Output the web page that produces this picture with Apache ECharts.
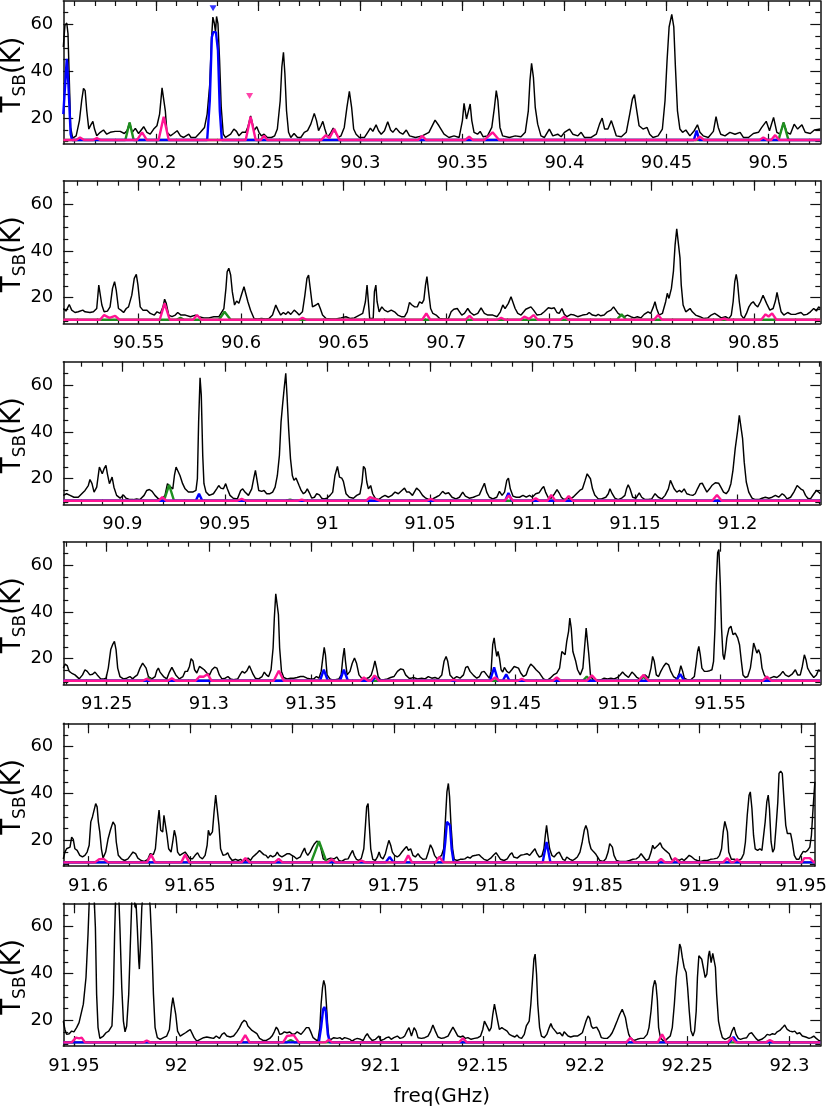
<!DOCTYPE html>
<html><head><meta charset="utf-8">
<script src="https://cdn.jsdelivr.net/npm/echarts@6/dist/echarts.min.js"></script>
<style>html,body{margin:0;padding:0;background:#fff}#c{width:830px;height:1109px}</style>
</head><body><div id="c"></div>
<script>
// ---------- data ----------
const panelRanges = [[90.1544,90.5254],[90.5133,90.8824],[90.8712,91.2404],[91.2288,91.5990],[91.5878,91.9567],[91.9448,92.3151]];
const tickLabels = [
  [90.2,90.25,90.3,90.35,90.4,90.45,90.5],
  [90.55,90.6,90.65,90.7,90.75,90.8,90.85],
  [90.9,90.95,91,91.05,91.1,91.15,91.2],
  [91.25,91.3,91.35,91.4,91.45,91.5,91.55],
  [91.6,91.65,91.7,91.75,91.8,91.85,91.9,91.95],
  [91.95,92,92.05,92.1,92.15,92.2,92.25,92.3]
];
const yTickLabels = [20,40,60];
const yMinorTicks = [10,15,25,30,35,45,50,55,65];

const blackP1 = [[90.1544,50.3],[90.1552,59.6],[90.1561,60.6],[90.1567,56],[90.1574,34.6],[90.1580,16],[90.1590,11.4],[90.1607,12.4],[90.1623,18.9],[90.1634,27.4],[90.1643,32.7],[90.1651,31.7],[90.1659,23.1],[90.1669,15.3],[90.1679,17.1],[90.1689,18.6],[90.1697,15.3],[90.1708,12.4],[90.1725,13.9],[90.1741,14.9],[90.1757,13.1],[90.1774,13.9],[90.1798,14.3],[90.1823,14.3],[90.1843,13.4],[90.1856,14.6],[90.1869,18],[90.1882,13.9],[90.1897,15.6],[90.1913,13.4],[90.1938,16.3],[90.1954,13.9],[90.1970,13.1],[90.1987,15.3],[90.2003,16.7],[90.2016,21.7],[90.2028,32.9],[90.2036,32.4],[90.2044,23.1],[90.2052,13.9],[90.2069,12.4],[90.2085,13.4],[90.2102,14.6],[90.2118,12.4],[90.2134,11.7],[90.2159,13.1],[90.2170,11.7],[90.2192,11.7],[90.2216,13.9],[90.2236,16],[90.2249,21.7],[90.2262,34.6],[90.2270,53.1],[90.2277,63.1],[90.2284,60.6],[90.2290,56.7],[90.2295,63.4],[90.2302,60.3],[90.2310,44.6],[90.2318,24.6],[90.2328,13.1],[90.2339,11.7],[90.2364,13.1],[90.2380,15.3],[90.2393,14.3],[90.2405,12.4],[90.2421,13.9],[90.2438,13.9],[90.2449,16.3],[90.2462,20.9],[90.2472,17.4],[90.2479,14.6],[90.2492,16.3],[90.2503,13.9],[90.2515,12.4],[90.2528,13.1],[90.2544,11.7],[90.2564,11.7],[90.2580,12.4],[90.2593,15.3],[90.2607,27.4],[90.2615,41.7],[90.2623,48.1],[90.2630,38.9],[90.2638,23.1],[90.2648,13.9],[90.2659,11.7],[90.2675,13.4],[90.2692,11.7],[90.2708,11.7],[90.2725,13.9],[90.2741,14.6],[90.2757,17.4],[90.2774,22],[90.2785,18.9],[90.2795,14.6],[90.2807,16.7],[90.2816,18.6],[90.2826,15.3],[90.2839,11.7],[90.2856,13.9],[90.2867,15.7],[90.2877,13.9],[90.2892,11.7],[90.2905,12.4],[90.2921,16],[90.2934,24.6],[90.2946,31.4],[90.2957,24.6],[90.2967,15.3],[90.2979,13.1],[90.2995,11.7],[90.3020,11.7],[90.3036,13.9],[90.3049,15.7],[90.3061,14.3],[90.3077,17.1],[90.3089,14.6],[90.3102,13.1],[90.3118,14.6],[90.3134,18.4],[90.3148,14.9],[90.3159,13.9],[90.3175,15.7],[90.3192,13.9],[90.3208,13.1],[90.3225,14.9],[90.3241,12.4],
[90.3270,11.7],[90.3303,12.4],[90.3336,13.9],[90.3366,19.1],[90.3385,16.7],[90.3410,13.1],[90.3434,11.7],[90.3459,12.4],[90.3484,11.7],[90.3500,18.9],[90.3508,26.3],[90.3520,19.6],[90.3538,26],[90.3546,18.9],[90.3557,13.9],[90.3574,13.1],[90.3587,14.3],[90.3602,12],[90.3623,12.4],[90.3644,16],[90.3657,24.6],[90.3666,31.7],[90.3674,27.4],[90.3684,16],[90.3697,12.4],[90.3730,11.7],[90.3759,12.4],[90.3787,12],[90.3808,13.9],[90.3823,23.1],[90.3831,36],[90.3839,43.4],[90.3848,37.4],[90.3857,24.6],[90.3869,17.4],[90.3885,12.4],[90.3902,11.7],[90.3926,15.3],[90.3943,12.4],[90.3967,13.1],[90.3984,12],[90.4000,13.9],[90.4025,15.3],[90.4041,13.1],[90.4066,12.4],[90.4082,13.9],[90.4098,11.7],[90.4131,11.7],[90.4156,13.1],[90.4172,17.4],[90.4185,20],[90.4197,15.3],[90.4213,15.3],[90.4230,18.9],[90.4241,16],[90.4254,12.4],[90.4279,12],[90.4303,13.9],[90.4320,21.7],[90.4333,28.1],[90.4343,30],[90.4352,24.6],[90.4366,16.7],[90.4385,15.3],[90.4405,16],[90.4418,13.1],[90.4434,11.7],[90.4459,12.4],[90.4480,15.3],[90.4493,27.4],[90.4503,44.6],[90.4513,58.9],[90.4526,64.3],[90.4536,58.9],[90.4544,41.7],[90.4554,23.1],[90.4566,15.3],[90.4579,13.9],[90.4595,14.9],[90.4615,12.4],[90.4636,14.6],[90.4652,17.1],[90.4664,13.9],[90.4680,12.4],[90.4705,11.7],[90.4730,14.3],[90.4743,20.6],[90.4754,16],[90.4766,13.1],[90.4787,12.4],[90.4811,13.9],[90.4836,13.1],[90.4861,13.9],[90.4877,11.7],[90.4902,11.7],[90.4926,13.4],[90.4951,13.9],[90.4967,16],[90.4989,18.6],[90.5005,14.6],[90.5025,20.3],[90.5041,13.9],[90.5057,13.1],[90.5074,18.1],[90.5090,13.9],[90.5107,13.1],[90.5126,17.4],[90.5143,15.3],[90.5164,17.1],[90.5180,13.9],[90.5205,13.4],[90.5225,14.9],[90.5254,15.3]];

const blackP2 = [[90.5133,15.4],[90.5146,14.3],[90.5162,17.1],[90.5174,14.7],[90.5190,13.7],[90.5206,14],[90.5228,14.7],[90.5239,14],[90.5263,13.7],[90.5280,14],[90.5296,15.4],[90.5306,25.4],[90.5312,24.7],[90.5321,16.9],[90.5332,14],[90.5348,14.3],[90.5361,16.1],[90.5373,24],[90.5383,26.9],[90.5391,23.3],[90.5402,15.4],[90.5414,14.7],[90.5427,13.7],[90.5440,15.4],[90.5451,16.1],[90.5467,21.1],[90.5479,28.3],[90.5489,30],[90.5497,25.4],[90.5508,16.1],[90.5521,14.7],[90.5541,14.7],[90.5557,13.3],[90.5577,12.6],[90.5590,14],[90.5606,13.3],[90.5619,16.1],[90.5627,19.4],[90.5635,17.6],[90.5647,12.6],[90.5663,11.9],[90.5679,12.6],[90.5691,13.7],[90.5707,12.6],[90.5728,12.6],[90.5753,11.9],[90.5777,12.6],[90.5794,11.9],[90.5818,11.4],[90.5843,11.4],[90.5867,11.9],[90.5892,11.9],[90.5900,12.6],[90.5916,15.4],[90.5926,24],[90.5932,31.1],[90.5940,32.6],[90.5949,29.7],[90.5957,22.6],[90.5968,16.9],[90.5978,18.6],[90.5989,17.6],[90.6001,21.1],[90.6014,24.7],[90.6022,24],[90.6033,18.3],[90.6046,14.7],[90.6063,11.1],[90.6079,10.9],[90.6099,11.1],[90.6120,10.9],[90.6136,11.1],[90.6153,12.6],[90.6169,16.9],[90.6180,14.7],[90.6193,12.6],[90.6206,13.7],[90.6218,12.9],[90.6229,14],[90.6242,12.9],[90.6259,14.7],[90.6272,13.7],[90.6283,12.6],[90.6299,14],[90.6311,21.1],[90.6321,28.3],[90.6329,29.7],[90.6337,24],[90.6348,16.1],[90.6365,16.9],[90.6376,17.6],[90.6386,15.4],[90.6397,12.6],[90.6414,11.1],[90.6438,10.9],[90.6462,10.9],[90.6487,11.4],[90.6511,11.9],[90.6533,11.1],[90.6552,11.4],[90.6577,12.6],[90.6593,13.3],[90.6606,18.3],[90.6614,25.4],[90.6621,26.1],[90.6627,11.1],[90.6634,11.1],[90.6644,11.1],[90.6650,22.6],[90.6657,25.4],[90.6663,18.3],[90.6673,14],[90.6686,16.1],[90.6699,14.7],[90.6715,14],[90.6732,14.7],[90.6748,14],[90.6764,12.6],[90.6781,11.9],[90.6797,11.9],[90.6810,14],[90.6821,18],[90.6833,16.9],
[90.6846,16.1],[90.6859,16.1],[90.6870,18.3],[90.6882,17.6],[90.6891,19.1],[90.6899,25.4],[90.6906,29],[90.6914,22.6],[90.6924,15.4],[90.6935,13.3],[90.6951,12.6],[90.6968,11.1],[90.6984,10.9],[90.7000,10.9],[90.7011,11.1],[90.7024,14],[90.7037,15.1],[90.7054,15.4],[90.7065,14],[90.7076,12.6],[90.7089,13.3],[90.7105,15.4],[90.7118,13.7],[90.7135,12.6],[90.7154,13.3],[90.7170,15.7],[90.7186,13.3],[90.7203,12.6],[90.7227,12.6],[90.7248,11.9],[90.7264,14],[90.7276,16.9],[90.7287,15.4],[90.7303,17.6],[90.7316,20.4],[90.7324,19.7],[90.7336,15.4],[90.7349,13.3],[90.7365,12.6],[90.7378,14],[90.7388,15.1],[90.7397,14.3],[90.7413,16.1],[90.7426,14.7],[90.7443,12.6],[90.7462,12.9],[90.7478,14],[90.7498,15.7],[90.7514,15.4],[90.7527,15.7],[90.7540,13.7],[90.7551,13.3],[90.7564,15.4],[90.7576,12.9],[90.7589,11.9],[90.7608,12.9],[90.7624,12.6],[90.7641,11.9],[90.7665,12.6],[90.7686,12.9],[90.7697,13.7],[90.7713,12.6],[90.7730,12.3],[90.7741,12.9],[90.7754,12.3],[90.7770,12.6],[90.7786,14],[90.7803,14.7],[90.7816,16.1],[90.7827,14.7],[90.7838,13.3],[90.7851,12.6],[90.7868,11.9],[90.7884,12.6],[90.7900,11.9],[90.7916,11.4],[90.7932,11.9],[90.7949,11.4],[90.7965,12.9],[90.7984,14],[90.7997,13.3],[90.8010,16.1],[90.8018,18.3],[90.8026,15.4],[90.8038,12.6],[90.8054,13.3],[90.8070,18.3],[90.8078,21.9],[90.8086,19.7],[90.8098,24],[90.8108,31.4],[90.8116,42.6],[90.8124,49.4],[90.8132,49],[90.8140,36.9],[90.8146,25.4],[90.8155,16.9],[90.8168,14],[90.8179,14.7],[90.8189,15.4],[90.8200,14],[90.8216,12.6],[90.8237,11.9],[90.8257,11.1],[90.8276,11.4],[90.8292,12.6],[90.8309,13.3],[90.8322,12.6],[90.8341,11.4],[90.8362,11.9],[90.8378,11.1],[90.8390,12.6],[90.8399,18.3],[90.8407,26.9],[90.8414,30],[90.8420,26.9],[90.8429,18.3],[90.8438,12.6],[90.8451,11.1],[90.8464,13.3],[90.8476,16.1],[90.8487,17.6],[90.8497,18.3],[90.8508,16.9],[90.8519,16.1],[90.8532,18.3],[90.8545,21.1],[90.8552,21.4],[90.8562,17.6],[90.8578,14.7],[90.8594,15.4],[90.8605,18.6],[90.8613,22.3],[90.8622,18.3],[90.8633,14],[90.8646,12.6],[90.8665,13.7],[90.8682,12.9],[90.8703,12.9],[90.8714,13.3],[90.8730,13.7],[90.8743,12.6],[90.8759,12.9],[90.8776,14],[90.8792,15.4],[90.8805,14.3],[90.8816,16.1],[90.8824,15.4]];

const blackP3 = [[90.8712,12.9],[90.8728,13.6],[90.8745,12.9],[90.8764,12.1],[90.8785,12.1],[90.8802,13.6],[90.8818,15],[90.8834,17.1],[90.8842,19.7],[90.8852,17.9],[90.8862,14.3],[90.8875,16.4],[90.8888,25],[90.8896,25.7],[90.8902,22.1],[90.8911,24.3],[90.8920,25.7],[90.8927,22.1],[90.8937,17.9],[90.8950,20.7],[90.8959,16.4],[90.8972,12.9],[90.8989,11.7],[90.9005,13.1],[90.9018,11.7],[90.9037,11.1],[90.9054,11.1],[90.9070,11.4],[90.9086,11.1],[90.9106,12.9],[90.9119,15],[90.9132,15.4],[90.9145,14.6],[90.9159,12.9],[90.9176,11.4],[90.9192,11.4],[90.9208,12.9],[90.9220,17.9],[90.9228,18.6],[90.9236,16.4],[90.9246,15.7],[90.9254,21.4],[90.9262,25],[90.9270,24.3],[90.9281,21.4],[90.9294,17.9],[90.9306,15.7],[90.9322,14.3],[90.9343,14.3],[90.9359,15],[90.9366,20],[90.9372,44.3],[90.9379,63.1],[90.9385,55.7],[90.9392,30],[90.9398,17.9],[90.9408,14.3],[90.9424,12.9],[90.9444,13.6],[90.9460,15.7],[90.9470,17.1],[90.9480,16],[90.9493,15.7],[90.9504,17.9],[90.9512,15.7],[90.9525,12.9],[90.9541,11.7],[90.9561,11.4],[90.9577,15],[90.9587,15.7],[90.9598,14.3],[90.9615,12.9],[90.9631,15.7],[90.9642,20.7],[90.9649,23.6],[90.9657,19.3],[90.9665,15],[90.9680,14.6],[90.9691,15],[90.9704,13.6],[90.9720,13.6],[90.9733,14.3],[90.9745,16.4],[90.9756,21.4],[90.9766,30],[90.9774,44.3],[90.9782,52.1],[90.9790,59.3],[90.9797,65],[90.9803,55.7],[90.9811,41.4],[90.9820,28.6],[90.9829,21.4],[90.9837,19.3],[90.9847,20.3],[90.9855,18.6],[90.9863,16.9],[90.9872,15],[90.9883,13.6],[90.9893,14.3],[90.9902,15.7],[90.9912,14],[90.9924,11.7],[90.9937,12.1],[90.9948,13.6],[90.9961,13.1],[90.9972,11.7],[90.9984,11.4],[90.9997,11.7],[91.0013,12.9],[91.0026,14.3],[91.0037,21.4],[91.0049,25.3],[91.0059,20.7],[91.0070,20.3],[91.0078,18.9],[91.0091,13.6],[91.0107,12.1],[91.0127,11.7],[91.0143,12.9],[91.0159,13.6],[91.0169,18.6],[91.0176,25.3],[91.0184,24.3],[91.0192,18.6],[91.0200,15.7],[91.0211,17.1],[91.0221,13.6],[91.0233,11.7],[91.0249,11.1],[91.0265,12.1],[91.0281,12.9],[91.0298,12.1],[91.0314,12.9],[91.0330,14.3],[91.0346,13.6],[91.0363,15],[91.0376,16],[91.0387,14.3],
[91.0399,14.3],[91.0415,12.9],[91.0435,16],[91.0448,15],[91.0464,12.9],[91.0480,11.7],[91.0497,11.1],[91.0513,11.4],[91.0529,12.1],[91.0546,12.9],[91.0562,14.6],[91.0575,13.6],[91.0591,14],[91.0608,12.1],[91.0627,11.4],[91.0644,12.1],[91.0660,14.3],[91.0673,12.6],[91.0692,11.7],[91.0712,12.1],[91.0725,12.6],[91.0741,13.1],[91.0754,15.7],[91.0766,18.1],[91.0777,14.3],[91.0790,12.1],[91.0807,11.4],[91.0826,12.1],[91.0839,14.6],[91.0852,12.9],[91.0864,14.3],[91.0875,19.3],[91.0883,20.3],[91.0892,15.7],[91.0905,12.6],[91.0921,12.1],[91.0937,12.1],[91.0954,12.9],[91.0970,12.1],[91.0986,12.9],[91.0999,12.1],[91.1016,13.6],[91.1032,14],[91.1045,15.7],[91.1055,16.7],[91.1064,14.3],[91.1076,12.1],[91.1092,11.7],[91.1108,13.6],[91.1120,15.4],[91.1130,14],[91.1141,12.1],[91.1153,11.1],[91.1169,11.7],[91.1182,11.4],[91.1198,12.1],[91.1215,13.6],[91.1231,15],[91.1244,15.7],[91.1257,19.3],[91.1267,22.1],[91.1275,22.9],[91.1283,20],[91.1293,15.7],[91.1304,13.1],[91.1321,11.4],[91.1337,11.4],[91.1358,12.1],[91.1370,13.6],[91.1378,15.7],[91.1389,13.6],[91.1402,11.7],[91.1418,11.1],[91.1435,11.7],[91.1451,12.9],[91.1459,15.7],[91.1467,17.4],[91.1476,15.7],[91.1489,12.1],[91.1505,11.7],[91.1521,14],[91.1533,12.1],[91.1549,11.1],[91.1565,11.1],[91.1582,11.4],[91.1598,13.6],[91.1606,14.3],[91.1614,12.1],[91.1631,11.4],[91.1647,12.9],[91.1663,15.7],[91.1673,19.3],[91.1681,19.6],[91.1691,15.7],[91.1704,14.3],[91.1717,15],[91.1728,14.3],[91.1740,15.7],[91.1753,13.6],[91.1769,13.1],[91.1782,12.9],[91.1794,13.6],[91.1805,15.7],[91.1818,17.9],[91.1828,18.1],[91.1838,16.4],[91.1851,14.3],[91.1864,15.7],[91.1875,17.1],[91.1892,18.3],[91.1908,18.1],[91.1919,16.4],[91.1932,14.3],[91.1945,13.6],[91.1957,15],[91.1968,17.9],[91.1978,23.6],[91.1989,32.9],[91.2001,40.7],[91.2009,47.1],[91.2017,47.1],[91.2025,37.1],[91.2033,27.1],[91.2043,18.6],[91.2055,14.3],[91.2071,11.7],[91.2087,11.1],[91.2104,11.1],[91.2120,11.7],[91.2136,12.1],[91.2153,11.7],[91.2169,12.1],[91.2185,12.9],[91.2201,12.1],[91.2218,13.6],[91.2229,12.9],[91.2242,11.4],[91.2259,12.1],[91.2275,14.3],[91.2291,17.1],[91.2299,17.9],[91.2308,15.7],[91.2321,15],[91.2332,12.9],[91.2343,11.7],[91.2356,11.4],[91.2373,13.6],[91.2385,15],[91.2396,14.3],[91.2404,13.6]];

const blackP4 = [[91.2288,16],[91.2297,17.7],[91.2307,17.1],[91.2317,14.6],[91.2328,13.9],[91.2345,13.1],[91.2366,11.4],[91.2382,13.1],[91.2394,15.3],[91.2405,14.6],[91.2418,13.1],[91.2431,13.4],[91.2443,14.3],[91.2454,13.1],[91.2471,11.4],[91.2487,11.4],[91.2497,11.7],[91.2508,16],[91.2520,23.9],[91.2529,26],[91.2538,27.4],[91.2546,23.9],[91.2554,16],[91.2565,12.4],[91.2582,11.4],[91.2598,11.7],[91.2614,12.4],[91.2627,11.4],[91.2639,12.4],[91.2650,13.1],[91.2663,16],[91.2676,18.1],[91.2685,18.9],[91.2693,16],[91.2704,12.4],[91.2721,11.4],[91.2737,12.4],[91.2745,14.9],[91.2753,16],[91.2761,14.3],[91.2778,12.4],[91.2794,11.4],[91.2807,14.3],[91.2819,16.3],[91.2827,16],[91.2838,13.1],[91.2855,11.4],[91.2873,12.4],[91.2884,14.6],[91.2895,14.6],[91.2905,16.7],[91.2913,20],[91.2922,19.1],[91.2930,15.3],[91.2941,13.9],[91.2954,16.7],[91.2966,16],[91.2977,15.3],[91.2990,13.9],[91.3003,13.1],[91.3015,15.3],[91.3028,16.4],[91.3039,16],[91.3051,13.1],[91.3064,11.4],[91.3080,11.7],[91.3093,12.4],[91.3105,11.4],[91.3121,11],[91.3141,11.4],[91.3154,13.4],[91.3163,14.6],[91.3175,13.9],[91.3186,14.9],[91.3198,17],[91.3206,16.7],[91.3216,13.4],[91.3227,11.7],[91.3243,11.4],[91.3260,12.4],[91.3271,14.3],[91.3281,13.1],[91.3292,12.4],[91.3304,15.3],[91.3314,24.6],[91.3320,37.4],[91.3327,47.7],[91.3333,47.4],[91.3340,38.9],[91.3346,24.6],[91.3355,14.6],[91.3366,12],[91.3382,11.4],[91.3399,11.7],[91.3415,11.7],[91.3431,12],[91.3448,12.4],[91.3464,12.4],[91.3480,11.7],[91.3497,11.4],[91.3513,11.4],[91.3526,12.4],[91.3538,11.7],[91.3549,14.6],[91.3557,20.3],[91.3564,24.9],[91.3570,21.7],[91.3578,13.1],[91.3592,11.4],[91.3603,11],[91.3619,11],[91.3636,11.4],[91.3647,13.1],[91.3655,20.3],[91.3662,24.6],[91.3668,18.9],[91.3676,13.1],[91.3690,14.6],[91.3701,18.1],[91.3712,20.3],[91.3722,18.1],[91.3734,13.1],[91.3750,11.4],[91.3766,11.4],[91.3783,12],[91.3794,13.1],[91.3804,16],[91.3812,19.1],[91.3820,16],[91.3828,12.4],[91.3840,11],[91.3856,11],[91.3873,11.4],[91.3889,12],[91.3905,12.4],[91.3922,14.6],[91.3938,15.7],[91.3951,15.3],[91.3962,13.1],[91.3979,11.7],[91.3990,11.7],
[91.4000,12],[91.4020,11.4],[91.4041,11.7],[91.4057,11.4],[91.4073,12.4],[91.4090,11.7],[91.4106,12],[91.4122,11.4],[91.4139,13.1],[91.4150,18.9],[91.4160,21],[91.4168,18.9],[91.4179,13.1],[91.4196,11.4],[91.4212,12.4],[91.4228,11.7],[91.4245,13.1],[91.4256,16.3],[91.4266,16.7],[91.4277,14.6],[91.4294,12.9],[91.4310,11.7],[91.4323,12.4],[91.4334,14.3],[91.4346,14.6],[91.4359,13.1],[91.4372,11.7],[91.4380,14.6],[91.4388,26],[91.4395,28.9],[91.4401,24.6],[91.4408,21],[91.4414,23.1],[91.4421,20.3],[91.4429,15.3],[91.4437,14.3],[91.4445,16.3],[91.4457,14.6],[91.4468,13.9],[91.4481,15.3],[91.4493,16.7],[91.4502,17.4],[91.4514,16],[91.4525,13.9],[91.4538,12.4],[91.4551,13.1],[91.4563,16],[91.4574,17.7],[91.4587,16.7],[91.4600,15.3],[91.4617,13.9],[91.4636,11.4],[91.4653,10.7],[91.4669,11.7],[91.4685,13.1],[91.4701,13.9],[91.4715,16],[91.4726,23.1],[91.4734,23.9],[91.4742,21.7],[91.4750,27.4],[91.4759,31.7],[91.4765,37.4],[91.4772,33.1],[91.4780,23.1],[91.4786,23.9],[91.4794,18.9],[91.4803,15.3],[91.4816,13.1],[91.4829,16],[91.4837,24.6],[91.4845,33.1],[91.4852,32.4],[91.4858,21.7],[91.4866,13.1],[91.4878,11],[91.4897,10.6],[91.4917,11],[91.4933,11.7],[91.4949,11.4],[91.4966,11.7],[91.4982,11.4],[91.4998,12],[91.5011,13.1],[91.5023,14.3],[91.5036,13.1],[91.5052,12],[91.5069,14.3],[91.5080,13.4],[91.5093,12],[91.5106,11.4],[91.5117,12.4],[91.5134,13.1],[91.5150,11.7],[91.5162,16],[91.5170,21],[91.5178,18.9],[91.5188,13.1],[91.5199,12.4],[91.5210,14.6],[91.5223,16.7],[91.5235,18.1],[91.5248,17.4],[91.5259,14.6],[91.5272,12.4],[91.5289,11.4],[91.5300,13.9],[91.5308,17],[91.5317,14.6],[91.5325,11.7],[91.5341,11],[91.5357,11],[91.5374,12.4],[91.5383,18.1],[91.5390,23.1],[91.5396,25.3],[91.5403,21.7],[91.5411,16],[91.5423,14.6],[91.5436,14.6],[91.5449,14.9],[91.5460,15.3],[91.5468,18.9],[91.5475,33.1],[91.5481,51.7],[91.5488,65.3],[91.5494,66.7],[91.5501,51.7],[91.5507,33.1],[91.5514,21.7],[91.5520,19.6],[91.5527,23.9],[91.5533,28.9],[91.5543,32.9],[91.5553,33.9],[91.5563,30.3],[91.5574,31],[91.5586,28.9],[91.5595,26],[91.5604,18.9],[91.5612,13.1],[91.5623,12],[91.5635,12.4],[91.5648,16],[91.5657,21.7],[91.5664,26.7],[91.5672,24.6],[91.5680,22.4],[91.5688,23.9],[91.5697,21.7],[91.5705,16],[91.5716,13.1],[91.5729,11.4],[91.5745,11.7],[91.5762,12.4],[91.5778,12],[91.5794,13.1],[91.5807,14.6],[91.5819,13.1],[91.5835,12.4],[91.5852,13.4],[91.5868,15.3],[91.5879,13.1],[91.5892,13.1],[91.5902,16.7],[91.5912,21.7],[91.5920,19.6],[91.5928,16],[91.5941,13.9],[91.5958,12],[91.5971,13.1],[91.5982,15.3],[91.5990,14.6]];

const blackP5 = [[91.5878,12.1],[91.5886,15],[91.5894,16.4],[91.5902,15.7],[91.5911,17.1],[91.5919,21.4],[91.5927,20.4],[91.5935,16.4],[91.5946,15.7],[91.5959,13.6],[91.5972,12.9],[91.5984,13.6],[91.5995,15],[91.6005,17.9],[91.6013,27.9],[91.6021,30],[91.6029,30.7],[91.6037,35.7],[91.6044,34.3],[91.6050,27.9],[91.6057,23.6],[91.6065,16.4],[91.6073,12.4],[91.6086,15],[91.6098,20.7],[91.6109,24.3],[91.6122,27.9],[91.6132,26.4],[91.6138,19.3],[91.6148,13.6],[91.6163,12.1],[91.6179,11.4],[91.6195,12.1],[91.6208,13.6],[91.6220,15],[91.6233,14.3],[91.6244,12.4],[91.6260,11.4],[91.6276,11],[91.6293,11.9],[91.6304,14.3],[91.6312,15],[91.6320,13.9],[91.6330,16.4],[91.6340,26.4],[91.6348,32.9],[91.6356,24.3],[91.6366,23.6],[91.6372,30.7],[91.6379,30.7],[91.6387,22.1],[91.6395,16.4],[91.6407,15],[91.6415,19.3],[91.6423,24.3],[91.6431,21.4],[91.6439,15],[91.6450,13.6],[91.6463,14.3],[91.6476,15],[91.6488,13.6],[91.6499,12.1],[91.6512,12.1],[91.6525,13.6],[91.6537,14.7],[91.6548,12.9],[91.6561,12.1],[91.6574,13.6],[91.6584,17.9],[91.6590,24.3],[91.6598,22.1],[91.6610,23.6],[91.6618,32.1],[91.6626,39.3],[91.6634,39.3],[91.6642,26.4],[91.6650,16.4],[91.6662,13.6],[91.6675,13.9],[91.6685,14.7],[91.6694,12.9],[91.6707,11.4],[91.6724,11.9],[91.6737,11.4],[91.6748,11.9],[91.6759,11],[91.6772,11.4],[91.6785,12.4],[91.6797,11.4],[91.6808,12.9],[91.6821,13.9],[91.6831,14.7],[91.6841,15.7],[91.6850,15],[91.6862,13.9],[91.6873,13.6],[91.6883,12.4],[91.6894,13.6],[91.6906,12.9],[91.6919,13.6],[91.6928,15],[91.6938,13.6],[91.6951,12.9],[91.6964,13.6],[91.6977,14.3],[91.6987,14.3],[91.7000,13.6],[91.7013,12.9],[91.7024,12.1],[91.7041,12.9],[91.7052,15],[91.7062,16.7],[91.7068,15],[91.7078,13.6],[91.7089,15],[91.7101,17.1],[91.7111,18.6],[91.7122,19.6],[91.7133,19.3],[91.7143,16.4],[91.7154,12.1],[91.7167,11.4],[91.7179,12.1],[91.7190,12.4],[91.7198,12.9],[91.7208,12.1],[91.7220,12.9],[91.7231,11.4],[91.7244,11],[91.7260,11.9],[91.7276,12.1],[91.7289,14.3],[91.7298,15.7],[91.7306,13.6],[91.7317,11.9],[91.7330,11.4],[91.7341,12.4],[91.7353,16.4],[91.7361,26.4],[91.7367,34.3],[91.7374,35.7],[91.7380,26.4],[91.7387,16.4],[91.7397,11.9],[91.7410,11.4],[91.7420,12.9],[91.7428,15],[91.7436,12.9],[91.7447,12.1],[91.7459,14.3],[91.7467,17.1],[91.7476,20],[91.7485,17.9],[91.7493,15],[91.7504,13.6],[91.7517,12.9],[91.7528,13.6],[91.7540,15],[91.7553,16.4],[91.7563,17.4],[91.7572,15.7],
[91.7583,16.4],[91.7594,13.6],[91.7606,12.9],[91.7619,14.3],[91.7630,12.9],[91.7643,11.9],[91.7659,12.1],[91.7670,15],[91.7680,18.1],[91.7690,16.4],[91.7700,13.6],[91.7713,12.1],[91.7724,12.9],[91.7735,13.6],[91.7745,16.4],[91.7753,27.9],[91.7761,40.7],[91.7768,44.3],[91.7774,38.6],[91.7781,26.4],[91.7789,16.4],[91.7797,11.9],[91.7810,11.4],[91.7826,11.9],[91.7838,11.9],[91.7849,12.1],[91.7862,12.9],[91.7875,12.4],[91.7886,13.3],[91.7903,13.6],[91.7919,13.9],[91.7930,12.9],[91.7943,11.9],[91.7959,11.4],[91.7976,12.4],[91.7989,13.6],[91.8002,14.7],[91.8011,13.6],[91.8024,11.9],[91.8041,11.4],[91.8057,12.1],[91.8070,13.9],[91.8080,14.7],[91.8089,12.9],[91.8106,12.4],[91.8122,13.6],[91.8138,13.9],[91.8154,14.3],[91.8167,13.6],[91.8180,15],[91.8193,16.4],[91.8203,14.3],[91.8214,12.9],[91.8227,13.3],[91.8237,16.4],[91.8244,22.1],[91.8250,26.4],[91.8256,22.1],[91.8265,16.4],[91.8276,13.6],[91.8287,12.9],[91.8300,14.3],[91.8312,15],[91.8320,13.6],[91.8330,11.9],[91.8341,11.4],[91.8349,12.9],[91.8357,13.6],[91.8365,11.9],[91.8378,11.4],[91.8390,12.1],[91.8401,12.9],[91.8414,15],[91.8425,19.3],[91.8435,24.3],[91.8443,26.4],[91.8451,24.3],[91.8459,19.3],[91.8468,16.4],[91.8479,15.3],[91.8490,14.3],[91.8500,12.9],[91.8511,11.4],[91.8528,11],[91.8541,12.1],[91.8552,15],[91.8560,18.6],[91.8567,19.3],[91.8573,17.1],[91.8581,13.6],[91.8593,11.4],[91.8609,11],[91.8625,11],[91.8641,11],[91.8657,11.4],[91.8674,11.9],[91.8690,12.1],[91.8703,12.9],[91.8714,14.3],[91.8726,12.9],[91.8739,11.4],[91.8752,12.1],[91.8763,15],[91.8771,17.9],[91.8779,16.4],[91.8787,16.4],[91.8797,17.9],[91.8808,19],[91.8817,17.1],[91.8825,17.1],[91.8833,15.7],[91.8841,16.4],[91.8852,14.3],[91.8862,12.1],[91.8873,11.4],[91.8885,12.1],[91.8901,11.4],[91.8914,12.1],[91.8925,11.4],[91.8937,12.4],[91.8950,13.6],[91.8963,12.9],[91.8976,11.9],[91.8990,11.4],[91.9006,11],[91.9023,11.4],[91.9039,11.4],[91.9055,11.9],[91.9071,12.1],[91.9088,12.4],[91.9099,13.6],[91.9109,16.4],[91.9117,23.6],[91.9125,28.1],[91.9131,28.6],[91.9138,23.6],[91.9144,15],[91.9157,11.9],[91.9174,11.9],[91.9190,11.4],[91.9206,12.1],[91.9218,14.3],[91.9226,19.3],[91.9235,30.7],[91.9244,39.3],[91.9250,40.7],[91.9258,33.6],[91.9266,22.1],[91.9274,16.4],[91.9286,15.7],[91.9297,16.4],[91.9307,15.7],[91.9315,16.4],[91.9323,27.9],[91.9331,36.4],[91.9338,39.3],[91.9344,33.6],[91.9352,19.3],[91.9360,15],[91.9368,16.4],[91.9377,26.4],[91.9385,36.4],[91.9391,48.6],[91.9399,49.6],[91.9407,48.6],[91.9416,36.4],[91.9424,26.4],[91.9432,22.9],[91.9440,23.3],[91.9448,22.9],[91.9456,19.3],[91.9466,13.6],[91.9477,11.9],[91.9489,11.9],[91.9498,13.6],[91.9510,15.3],[91.9521,15],[91.9531,15.7],[91.9542,17.1],[91.9550,22.1],[91.9558,33.6],[91.9567,45]];

const blackP6 = [[91.9448,19.7],[91.9456,16.1],[91.9464,14],[91.9477,14.3],[91.9489,15.4],[91.9500,15.1],[91.9513,16.9],[91.9525,19],[91.9529,19.7],[91.9546,26.9],[91.9559,38.3],[91.9569,56.9],[91.9575,71.1],[91.9587,82.6],[91.9598,74],[91.9605,59.7],[91.9611,31.1],[91.9618,16.9],[91.9627,12.3],[91.9644,13.3],[91.9657,14.7],[91.9670,15.4],[91.9676,14.7],[91.9686,17.6],[91.9693,31.1],[91.9699,56.9],[91.9704,72.6],[91.9712,81.1],[91.9719,74],[91.9725,59.7],[91.9734,34],[91.9742,19.7],[91.9750,15.1],[91.9758,17.6],[91.9768,31.1],[91.9776,52.6],[91.9783,71.1],[91.9791,76.9],[91.9799,68.3],[91.9804,69.7],[91.9810,59.7],[91.9817,45.4],[91.9820,41.9],[91.9825,51.1],[91.9832,68.3],[91.9840,75.4],[91.9853,78.6],[91.9864,76.9],[91.9873,68.3],[91.9881,52.6],[91.9889,31.1],[91.9897,16.9],[91.9908,12.6],[91.9922,11.9],[91.9938,12.6],[91.9954,13.3],[91.9967,16.1],[91.9977,25.4],[91.9984,29.7],[91.9990,29],[91.9998,22.6],[92.0007,15.4],[92.0020,13.3],[92.0033,14],[92.0046,14.7],[92.0057,15.4],[92.0069,16.1],[92.0078,15.4],[92.0088,12.6],[92.0101,11.1],[92.0118,11.9],[92.0134,12.6],[92.0150,12.9],[92.0167,12.6],[92.0183,12.3],[92.0196,13.3],[92.0204,14],[92.0212,12.3],[92.0224,14],[92.0235,14.7],[92.0248,13.3],[92.0265,12.9],[92.0281,13.3],[92.0297,15.1],[92.0310,16.9],[92.0322,19],[92.0333,20],[92.0343,19.4],[92.0351,17.6],[92.0359,16.9],[92.0371,15.7],[92.0382,15.1],[92.0395,14.3],[92.0408,12.3],[92.0425,11.4],[92.0441,11.4],[92.0458,12.3],[92.0469,13.3],[92.0480,15.1],[92.0490,17.1],[92.0498,16.1],[92.0507,14],[92.0518,14.3],[92.0529,15.1],[92.0542,14.7],[92.0556,15],[92.0569,14],[92.0582,14.3],[92.0592,15.1],[92.0600,14.7],[92.0611,14],[92.0624,15.4],[92.0637,16.9],[92.0649,16.9],[92.0657,15.4],[92.0670,12.6],[92.0681,11.9],[92.0693,11.1],[92.0703,16.9],[92.0709,26.9],[92.0716,34],[92.0722,37.1],[92.0729,34.7],[92.0735,26.9],[92.0742,16.9],[92.0748,11.9],[92.0758,11.9],[92.0771,12.6],[92.0788,12.3],[92.0801,12.6],[92.0812,11.9],[92.0824,12.6],[92.0837,12.3],[92.0850,11.9],[92.0861,11.1],[92.0873,11.9],[92.0886,12.3],[92.0902,11.9],[92.0915,11.4],[92.0926,13.3],[92.0935,14.3],[92.0944,12.9],[92.0959,11.4],[92.0975,11.9],[92.0992,13.3],[92.1000,11.4],[92.1016,11.9],[92.1029,12.6],[92.1041,12.9],[92.1052,11.9],[92.1065,12.6],[92.1082,13.3],[92.1095,12.3],[92.1108,12.6],[92.1118,13.3],[92.1131,15.7],[92.1139,16.9],
[92.1151,13.3],[92.1164,16.9],[92.1174,15.4],[92.1183,12.6],[92.1200,12.3],[92.1216,12.6],[92.1232,13.3],[92.1245,15.4],[92.1256,18],[92.1268,15.4],[92.1281,12.9],[92.1297,12.3],[92.1313,12.6],[92.1330,13.3],[92.1343,15.4],[92.1354,17.1],[92.1365,15.4],[92.1378,13.3],[92.1391,12.9],[92.1403,13.3],[92.1414,12.3],[92.1427,12.6],[92.1443,11.9],[92.1459,12.3],[92.1476,12.6],[92.1489,13.3],[92.1500,16.1],[92.1508,19.7],[92.1516,20],[92.1524,16.9],[92.1532,15.4],[92.1541,16.9],[92.1549,22.6],[92.1557,26.9],[92.1565,26.9],[92.1573,19.7],[92.1581,16.1],[92.1593,16.9],[92.1606,16.1],[92.1619,15.4],[92.1630,14],[92.1646,13.3],[92.1657,12.9],[92.1667,13.7],[92.1679,12.6],[92.1690,12.3],[92.1703,14],[92.1713,17.6],[92.1719,17.6],[92.1727,19.7],[92.1735,26.9],[92.1744,38.3],[92.1750,46.1],[92.1756,48.3],[92.1763,39.7],[92.1769,26.9],[92.1778,16.9],[92.1787,13.3],[92.1800,12.6],[92.1813,14],[92.1825,16.9],[92.1833,18.6],[92.1841,16.9],[92.1852,15.7],[92.1865,14.3],[92.1877,14.7],[92.1890,13.3],[92.1898,15.1],[92.1906,14.3],[92.1917,13.3],[92.1930,12.9],[92.1946,13.3],[92.1963,13.3],[92.1976,14],[92.1987,14.7],[92.1995,16.9],[92.2005,19.7],[92.2015,21.9],[92.2023,20.9],[92.2031,17.6],[92.2039,16.6],[92.2047,16.9],[92.2057,17.1],[92.2068,15.4],[92.2080,12.6],[92.2093,12.3],[92.2109,12.3],[92.2122,13.3],[92.2133,14.7],[92.2144,16.9],[92.2157,19.7],[92.2170,22.6],[92.2182,24.7],[92.2190,24],[92.2198,21.1],[92.2206,17.1],[92.2214,14],[92.2222,12.6],[92.2239,11.4],[92.2255,11.9],[92.2271,12.3],[92.2287,12.3],[92.2304,14],[92.2313,16.9],[92.2323,24],[92.2333,34],[92.2341,37.1],[92.2347,35.4],[92.2354,28.6],[92.2360,16.9],[92.2369,12.6],[92.2381,11.4],[92.2393,11.4],[92.2404,12.3],[92.2417,13.3],[92.2427,16.9],[92.2437,26.9],[92.2446,38.3],[92.2455,45.4],[92.2463,52.6],[92.2469,51.1],[92.2476,46.9],[92.2485,42.6],[92.2495,40.4],[92.2502,34],[92.2510,24],[92.2518,15.7],[92.2528,13.3],[92.2536,15.4],[92.2544,24],[92.2550,38.3],[92.2557,47.6],[92.2563,46.9],[92.2571,46.1],[92.2580,45.4],[92.2588,38.3],[92.2596,39.7],[92.2604,47.6],[92.2609,49.7],[92.2617,44.7],[92.2625,48.6],[92.2631,48.3],[92.2638,42.6],[92.2644,31.1],[92.2653,19.7],[92.2661,16.1],[92.2672,12.6],[92.2685,11.9],[92.2696,12.3],[92.2709,12.9],[92.2719,15.4],[92.2729,17.1],[92.2739,14],[92.2750,12.3],[92.2761,11.9],[92.2774,12.3],[92.2791,12.6],[92.2804,14.3],[92.2815,14.7],[92.2823,14],[92.2836,12.3],[92.2847,11.4],[92.2864,11.9],[92.2880,12.9],[92.2891,14],[92.2904,13.7],[92.2917,14.3],[92.2929,14],[92.2940,15.1],[92.2953,15.7],[92.2966,16.9],[92.2977,18],[92.2989,16.1],[92.3002,15.4],[92.3015,15.1],[92.3026,15.4],[92.3037,14.3],[92.3050,14.7],[92.3063,13.3],[92.3080,12.9],[92.3096,12.3],[92.3107,12.6],[92.3119,13.3],[92.3131,12.3],[92.3144,11.4],[92.3151,11.1]];

const magentaP1 = [[90.1544,10.6],[90.1607,10.6],[90.1626,11.7],[90.1646,10.6],[90.1689,10.6],[90.1708,11.4],[90.1728,10.6],[90.1905,10.6],[90.1930,13.9],[90.1954,10.6],[90.2011,10.6],[90.2036,20.6],[90.2061,10.6],[90.2438,10.6],[90.2462,20.6],[90.2487,10.6],[90.2511,10.6],[90.2528,12.4],[90.2544,10.6],[90.2807,10.6],[90.2831,12.7],[90.2848,11.4],[90.2872,15.3],[90.2897,10.6],[90.3284,10.6],[90.3303,12.4],[90.3323,10.6],[90.3513,10.6],[90.3533,12],[90.3552,10.6],[90.3607,10.6],[90.3648,13.9],[90.3680,10.6],[90.4644,10.6],[90.4664,12],[90.4684,10.6],[90.4956,10.6],[90.4975,11.7],[90.4995,10.6],[90.5013,10.6],[90.5033,12.7],[90.5052,10.6],[90.5254,10.6]];
const greenP1 = [[90.1544,10.6],[90.1848,10.6],[90.1869,18.1],[90.1889,10.6],[90.5049,10.6],[90.5074,18.1],[90.5098,10.6],[90.5254,10.6]];
const blueP1 = [[90.1544,21.7],[90.1561,45.3],[90.1569,34.6],[90.1580,13.1],[90.1587,10.6],[90.2249,10.6],[90.2262,27.4],[90.2272,54.6],[90.2279,56.7],[90.2292,56.7],[90.2302,48.9],[90.2311,23.1],[90.2321,10.6],[90.4634,10.6],[90.4648,14.6],[90.4661,10.6],[90.5254,10.6]];

const magentaP2 = [[90.5133,10.6],[90.5312,10.6],[90.5332,12.6],[90.5358,11.4],[90.5386,12.3],[90.5407,10.6],[90.5603,10.6],[90.5627,17.6],[90.5652,10.6],[90.5766,10.6],[90.5785,12.6],[90.5805,10.6],[90.6280,10.6],[90.6299,11.4],[90.6319,10.6],[90.6883,10.6],[90.6903,13.3],[90.6922,10.6],[90.7094,10.6],[90.7114,12.3],[90.7133,10.6],[90.7248,10.6],[90.7268,11.4],[90.7287,10.6],[90.7362,10.6],[90.7381,11.9],[90.7404,11],[90.7426,12.6],[90.7446,10.6],[90.7556,10.6],[90.7576,11.9],[90.7595,10.6],[90.8013,10.6],[90.8033,12.6],[90.8052,10.6],[90.8336,10.6],[90.8354,11.1],[90.8372,10.6],[90.8536,10.6],[90.8557,12.9],[90.8572,12],[90.8589,13.3],[90.8610,10.6],[90.8824,10.6]];
const greenP2 = [[90.5133,10.6],[90.5684,10.6],[90.5704,11.4],[90.5723,10.6],[90.5892,10.6],[90.5919,14],[90.5949,10.6],[90.7832,10.6],[90.7855,12.9],[90.7877,10.6],[90.8824,10.6]];
const blueP2 = [];

const magentaP3 = [[90.8712,10.6],[90.9176,10.6],[90.9195,12.1],[90.9215,10.6],[90.9561,10.6],[90.9582,11.4],[90.9603,10.6],[90.9855,10.6],[90.9875,11.1],[90.9894,10.6],[91.0189,10.6],[91.0208,12.1],[91.0233,11.4],[91.0257,10.6],[91.0485,10.6],[91.0505,11.4],[91.0524,10.6],[91.0865,10.6],[91.0885,12.9],[91.0905,10.6],[91.0996,10.6],[91.1016,11.7],[91.1035,10.6],[91.1073,10.6],[91.1092,13.1],[91.1112,10.6],[91.1157,10.6],[91.1177,12.6],[91.1197,10.6],[91.1877,10.6],[91.1900,13.1],[91.1923,10.6],[91.2404,10.6]];
const greenP3 = [[90.8712,10.6],[90.9203,10.6],[90.9228,17.4],[90.9252,10.6],[90.9798,10.6],[90.9818,11.1],[90.9837,10.6],[91.2404,10.6]];
const blueP3 = [[90.8712,10.6],[90.9358,10.6],[90.9374,13.6],[90.9390,10.6],[91.0867,10.6],[91.0883,13.9],[91.0900,10.6],[91.2404,10.6]];

const magentaP4 = [[91.2288,10.6],[91.2676,10.6],[91.2696,11.4],[91.2716,10.6],[91.2799,10.6],[91.2819,11.7],[91.2838,10.6],[91.2935,10.6],[91.2954,12.4],[91.2974,12.3],[91.2993,13.4],[91.3013,10.6],[91.3317,10.6],[91.3342,14.9],[91.3366,10.6],[91.3739,10.6],[91.3758,12],[91.3778,10.6],[91.3791,10.6],[91.3810,12.9],[91.3830,10.6],[91.4177,10.6],[91.4196,11],[91.4215,10.6],[91.4380,10.6],[91.4400,12],[91.4419,10.6],[91.4511,10.6],[91.4530,11.4],[91.4550,10.6],[91.4682,10.6],[91.4701,12],[91.4721,10.6],[91.4848,10.6],[91.4873,12.9],[91.4897,10.6],[91.5101,10.6],[91.5126,13.1],[91.5150,10.6],[91.5708,10.6],[91.5729,12.4],[91.5750,10.6],[91.5990,10.6]];
const greenP4 = [[91.2288,10.6],[91.2685,10.6],[91.2704,11.7],[91.2724,10.6],[91.4829,10.6],[91.4848,12.4],[91.4868,10.6],[91.5106,10.6],[91.5126,12.4],[91.5146,10.6],[91.5990,10.6]];
const blueP4 = [[91.2288,10.6],[91.3543,10.6],[91.3562,15.3],[91.3582,10.6],[91.3641,10.6],[91.3660,15.3],[91.3680,10.6],[91.3799,10.6],[91.3815,12.4],[91.3831,10.6],[91.4375,10.6],[91.4395,16.3],[91.4414,10.6],[91.4437,10.6],[91.4454,13.4],[91.4470,10.6],[91.5285,10.6],[91.5305,13.4],[91.5325,10.6],[91.5990,10.6]];

const magentaP5 = [[91.5878,10.6],[91.6033,10.6],[91.6054,11.9],[91.6076,12.1],[91.6098,10.6],[91.6289,10.6],[91.6309,13.9],[91.6328,10.6],[91.6457,10.6],[91.6476,13.9],[91.6496,10.6],[91.6753,10.6],[91.6772,12.4],[91.6792,10.6],[91.6915,10.6],[91.6935,12.1],[91.6954,10.6],[91.7176,10.6],[91.7195,11.9],[91.7215,10.6],[91.7322,10.6],[91.7341,11.4],[91.7361,10.6],[91.7553,10.6],[91.7571,13.6],[91.7589,10.6],[91.7705,10.6],[91.7724,12.9],[91.7744,10.6],[91.8792,10.6],[91.8812,12.1],[91.8831,10.6],[91.8862,10.6],[91.8881,12.4],[91.8901,10.6],[91.9117,10.6],[91.9136,12.4],[91.9156,10.6],[91.9166,10.6],[91.9185,11.9],[91.9205,10.6],[91.9502,10.6],[91.9515,12.4],[91.9542,12.4],[91.9563,10.6],[91.9567,10.6]];
const greenP5 = [[91.5878,10.6],[91.7094,10.6],[91.7133,19.6],[91.7171,10.6],[91.9567,10.6]];
const blueP5 = [[91.5878,10.6],[91.7460,10.6],[91.7480,12.9],[91.7499,10.6],[91.7742,10.6],[91.7753,19.3],[91.7761,27.9],[91.7768,28.6],[91.7776,26.4],[91.7784,16.4],[91.7794,10.6],[91.8231,10.6],[91.8250,19.3],[91.8269,10.6],[91.9567,10.6]];

const magentaP6 = [[91.9448,10.6],[91.9489,10.6],[91.9510,12.6],[91.9526,12.3],[91.9538,12.6],[91.9554,10.6],[91.9840,10.6],[91.9856,11.4],[91.9873,10.6],[92.0317,10.6],[92.0338,13.7],[92.0359,10.6],[92.0523,10.6],[92.0542,13.3],[92.0575,13.7],[92.0600,10.6],[92.0730,10.6],[92.0747,11.7],[92.0763,10.6],[92.1383,10.6],[92.1403,12.3],[92.1422,10.6],[92.2203,10.6],[92.2222,12.6],[92.2242,10.6],[92.2356,10.6],[92.2377,14],[92.2398,10.6],[92.2698,10.6],[92.2718,12.6],[92.2737,10.6],[92.2885,10.6],[92.2904,11.6],[92.2924,10.6],[92.3151,10.6]];
const greenP6 = [[91.9448,10.6],[92.0540,10.6],[92.0560,11.6],[92.0580,10.6],[92.3151,10.6]];
const blueP6 = [[91.9448,10.6],[92.0698,10.6],[92.0709,16.9],[92.0719,24.7],[92.0725,25.7],[92.0732,24],[92.0742,14],[92.0752,10.6],[92.2706,10.6],[92.2726,12.9],[92.2745,10.6],[92.3151,10.6]];

const markerBlue = [[90.2278,66.9]];
const markerMagenta = [[90.2457,29.4]];

const blacks = [blackP1,blackP2,blackP3,blackP4,blackP5,blackP6];
const greens = [greenP1,greenP2,greenP3,greenP4,greenP5,greenP6];
const blues = [blueP1,blueP2,blueP3,blueP4,blueP5,blueP6];
const magentas = [magentaP1,magentaP2,magentaP3,magentaP4,magentaP5,magentaP6];

// ---------- layout ----------
const FONT = 'DejaVu Sans';
const gridTops = [1, 180.7, 361.7, 541.7, 723.3, 903.3];
const GL = 63.3, GW = 757, GH = 142.8;
const YMIN = 9, YMAX = 70;
const AX = '#111';
const fmt = v => String(Math.round(v * 1000) / 1000);

const grids = [], xAxes = [], yAxes = [], series = [], graphics = [];
gridTops.forEach((top, i) => {
  grids.push({left: GL, top: top, width: GW, height: GH});
  const [mn, mx] = panelRanges[i];
  const majors = tickLabels[i];
  const minors = [];
  for (let k = Math.ceil(mn * 100 - 1e-6); k <= Math.floor(mx * 100 + 1e-6); k++) minors.push(k / 100);
  const xb = {type: 'value', gridIndex: i, min: mn, max: mx, splitLine: {show: false}, axisPointer: {show: false}};
  const yb = {type: 'value', gridIndex: i, min: YMIN, max: YMAX, splitLine: {show: false}, axisPointer: {show: false}};
  const lineOn = {show: true, lineStyle: {color: AX, width: 1.5}};
  const tk = (len, vals) => ({show: true, inside: true, length: len, customValues: vals, lineStyle: {color: AX, width: 1.2}});
  const xi = xAxes.length;
  xAxes.push(Object.assign({}, xb, {position: 'bottom', axisLine: lineOn, axisTick: tk(10, majors),
    axisLabel: {show: true, customValues: majors, formatter: fmt, fontFamily: FONT, fontSize: 18, color: '#000', margin: 11}}));
  xAxes.push(Object.assign({}, xb, {position: 'bottom', axisLine: {show: false}, axisTick: tk(5, minors), axisLabel: {show: false}}));
  xAxes.push(Object.assign({}, xb, {position: 'top', axisLine: lineOn, axisTick: tk(10, majors), axisLabel: {show: false}}));
  xAxes.push(Object.assign({}, xb, {position: 'top', axisLine: {show: false}, axisTick: tk(5, minors), axisLabel: {show: false}}));
  const yi = yAxes.length;
  yAxes.push(Object.assign({}, yb, {position: 'left', axisLine: lineOn, axisTick: tk(10, yTickLabels),
    axisLabel: {show: true, customValues: yTickLabels, fontFamily: FONT, fontSize: 18, color: '#000', margin: 10}}));
  yAxes.push(Object.assign({}, yb, {position: 'left', axisLine: {show: false}, axisTick: tk(5, yMinorTicks), axisLabel: {show: false}}));
  yAxes.push(Object.assign({}, yb, {position: 'right', axisLine: lineOn, axisTick: tk(10, yTickLabels), axisLabel: {show: false}}));
  yAxes.push(Object.assign({}, yb, {position: 'right', axisLine: {show: false}, axisTick: tk(5, yMinorTicks), axisLabel: {show: false}}));

  const ln = (data, color, width, z) => ({type: 'line', xAxisIndex: xi, yAxisIndex: yi, data: data, symbol: 'none', showSymbol: false,
    lineStyle: {color: color, width: width}, itemStyle: {color: color}, z: z, silent: true, animation: false, clip: true});
  series.push(ln(blacks[i], '#000', 1.45, 2));
  if (greens[i].length) series.push(ln(greens[i], '#1f8f1f', 2.4, 3));
  if (blues[i].length) series.push(ln(blues[i], '#0000ff', 2.4, 4));
  if (magentas[i].length) series.push(ln(magentas[i], '#ff1493', 2.4, 5));
  if (i === 0) {
    series.push({type: 'scatter', xAxisIndex: xi, yAxisIndex: yi, data: markerBlue, symbol: 'triangle', symbolRotate: 180, symbolSize: [7, 6], itemStyle: {color: '#0000ff'}, z: 6, silent: true, animation: false});
    series.push({type: 'scatter', xAxisIndex: xi, yAxisIndex: yi, data: markerMagenta, symbol: 'triangle', symbolRotate: 180, symbolSize: [7, 6], itemStyle: {color: '#ff1493'}, z: 6, silent: true, animation: false});
  }

  // y-axis title T_SB(K)
  graphics.push({type: 'text', x: 13.5, y: top + 111.5, rotation: Math.PI / 2,
    style: {text: 'T', fontFamily: FONT, fontSize: 26, fill: '#000', align: 'left', verticalAlign: 'middle'}});
  graphics.push({type: 'text', x: 20.8, y: top + 95.6, rotation: Math.PI / 2,
    style: {text: 'SB', fontFamily: FONT, fontSize: 17, fill: '#000', align: 'left', verticalAlign: 'middle'}});
  graphics.push({type: 'text', x: 13.5, y: top + 73.1, rotation: Math.PI / 2,
    style: {text: '(K)', fontFamily: FONT, fontSize: 26, fill: '#000', align: 'left', verticalAlign: 'middle'}});
});
graphics.push({type: 'text', x: GL + GW / 2, y: 1097, style: {text: 'freq(GHz)', fontFamily: FONT, fontSize: 20, fill: '#000', align: 'center', verticalAlign: 'middle'}});

const chart = echarts.init(document.getElementById('c'), null, {renderer: 'canvas'});
chart.setOption({
  animation: false,
  backgroundColor: '#fff',
  grid: grids, xAxis: xAxes, yAxis: yAxes, series: series, graphic: graphics
});
</script></body></html>
